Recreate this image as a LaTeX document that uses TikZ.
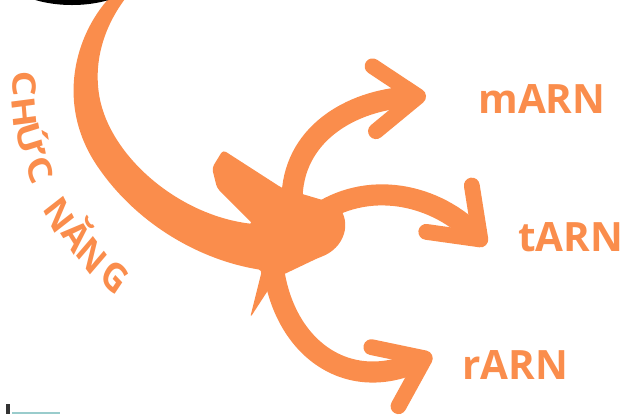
\documentclass[tikz,border=0pt]{standalone}
\usepackage{fontspec}
\setmainfont{Open Sans}
\usetikzlibrary{arrows.meta}
\definecolor{rnaorange}{RGB}{250,141,76}
\tikzset{
  branch/.style={draw=rnaorange, line width=12pt,
    -{Straight Barb[length=25pt, width=37pt, line width=9pt, round]}},
  rnalabel/.style={text=rnaorange, font=\bfseries\fontsize{23}{27}\selectfont,
    anchor=base west, inner sep=0pt},
  arcletter/.style={text=rnaorange, font=\bfseries\fontsize{23}{26}\selectfont,
    inner sep=0pt, xscale=0.8},
}

\begin{document}
\begin{tikzpicture}[x=0.02cm, y=-0.02cm]
\useasboundingbox (0,0) rectangle (641,414);

% branches to the three RNAs
\coordinate (hubm) at (292,200);
\coordinate (hubt) at (310,220);
\coordinate (hubr) at (272,255);
\coordinate (mtip) at (426,96);
\coordinate (ttip) at (486,245);
\coordinate (rtip) at (432,355);
\draw[branch] (hubm) .. controls (292,135) and (350,100) .. (mtip);
\draw[branch] (hubt) .. controls (360,180) and (430,190) .. (ttip);
\draw[branch] (hubr) .. controls (278,345) and (345,395) .. (rtip);

% big curved arrow
\fill[rnaorange, rounded corners=2pt] (112,-5) .. controls (75,35) and (55,105) .. (100,170)
  .. controls (140,225) and (200,260) .. (262,270)
  -- (250,318) -- (276,278) -- (318,258)
  .. controls (345,248) and (352,222) .. (336,204)
  -- (282,188) -- (223,150) -- (212,168) -- (217,188)
  -- (253,224) .. controls (180,215) and (115,160) .. (100,100)
  .. controls (93,60) and (105,25) .. (128,-5) -- cycle;

% cut-off shapes at the edges
\fill[black] (72,-40) ellipse (80 and 45);
\fill[black!80] (6,404) rectangle (10,414);
\draw[teal!40, line width=1pt] (12,413) -- (60,413);

% curved title
\foreach \ch/\px/\py/\ang [count=\i] in {C/24/84/-88, H/24/112/-84, Ứ/30/140/-76,
    C/40/170/-70, N/59/215/-58, Ă/76/236/-52, N/92/256/-47, G/115/277/-40}
  \node[arcletter, rotate=\ang] (letter\i) at (\px,\py) {\vphantom{H}\smash{\ch}};

% labels
\node[rnalabel] (mrna) at (478,113) {mARN};
\node[rnalabel] (trna) at (518,251) {tARN};
\node[rnalabel] (rrna) at (462,379) {rARN};
\end{tikzpicture}
\end{document}
